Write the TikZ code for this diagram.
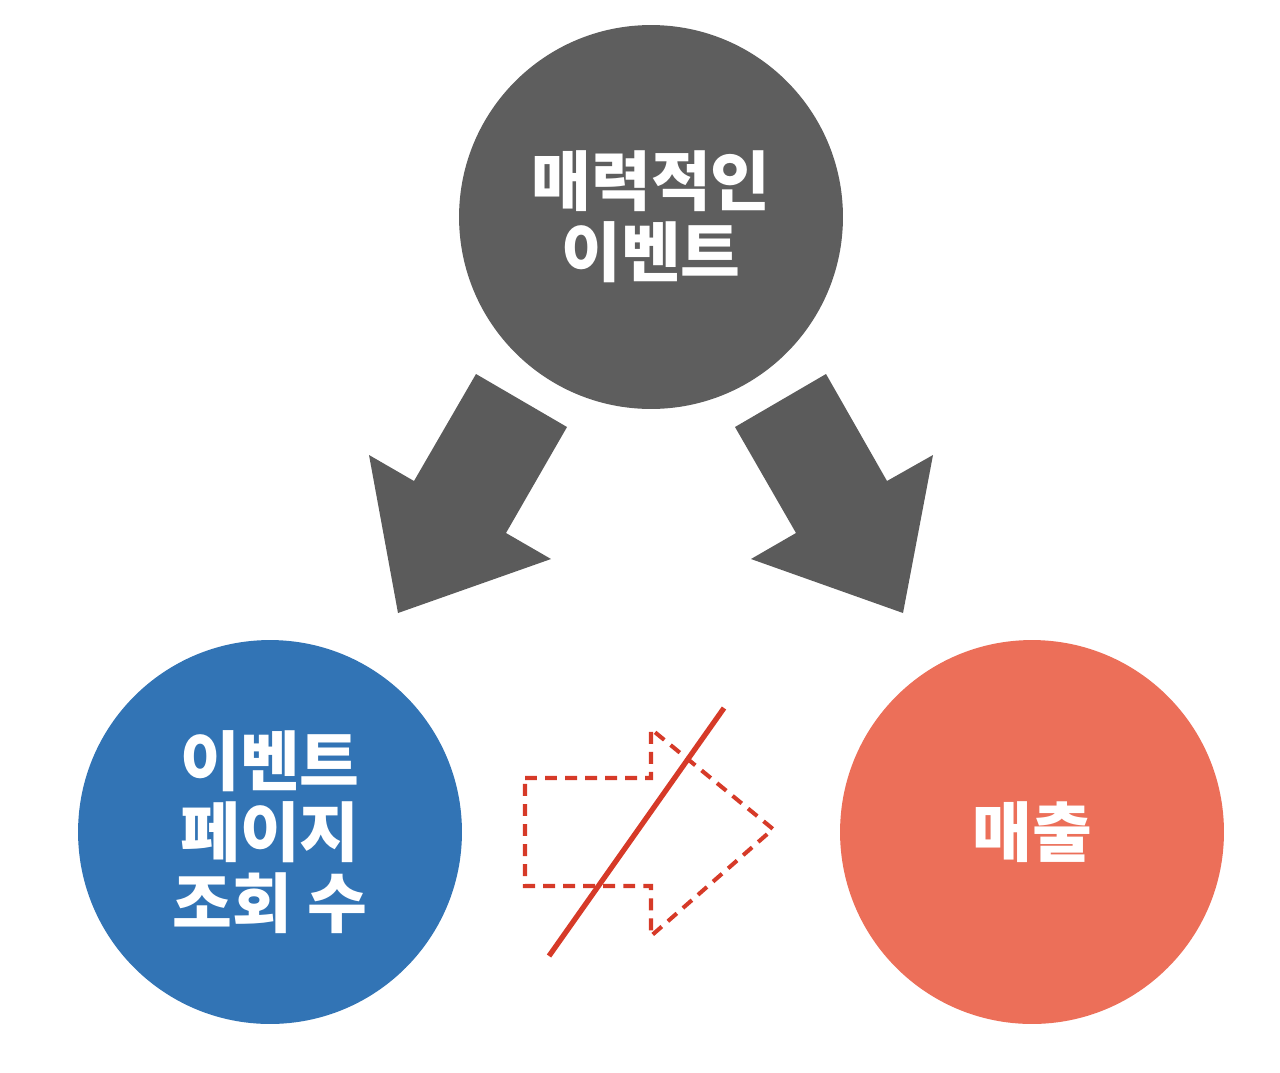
\documentclass[tikz,border=0pt]{standalone}
\usepackage{fontspec}
\newfontfamily\kr{Noto Sans CJK KR}
\definecolor{topgray}{HTML}{5E5E5E}
\definecolor{arrgray}{HTML}{5B5B5B}
\definecolor{viewblue}{HTML}{3274B5}
\definecolor{salesred}{HTML}{EC6F59}
\definecolor{linered}{HTML}{D63A28}
\tikzset{
  bubble/.style={circle, minimum size=7.68cm, inner sep=0pt, text=white, align=center,
                 font=\kr\bfseries\fontsize{37}{40.5}\selectfont},
  bigarrow/.style={fill=arrgray},
  notarrow/.style={draw=linered, line width=2.3pt, dash pattern=on 6.8pt off 4.6pt}
}
\begin{document}
\begin{tikzpicture}[x=0.02cm, y=-0.02cm]
      \useasboundingbox (0,0) rectangle (1280,1072);

      \node[bubble, fill=topgray]  (event) at (651,217) {매력적인\\이벤트};
      \node[bubble, fill=viewblue] (views) at (270,832) {이벤트\\페이지\\조회 수};
      \node[bubble, fill=salesred] (sales) at (1032,832) {매출};

      \fill[bigarrow] (476,374) -- (567,427) -- (506,533) -- (551,559)
                   -- (398,613) -- (369,455) -- (414,481) -- cycle; % event -> views
      \fill[bigarrow] (826,374) -- (735,427) -- (796,533) -- (751,559)
                   -- (903,613) -- (933,455) -- (887,481) -- cycle; % event -> sales

      \draw[notarrow] (525,778) -- (651,778) -- (651,729) -- (773,829)
                   -- (651,936) -- (651,886) -- (525,886) -- cycle; % views -> sales
      \draw[linered, line width=3pt] (549,956) -- (724,708);          % crossed out
    \end{tikzpicture}
\end{document}
